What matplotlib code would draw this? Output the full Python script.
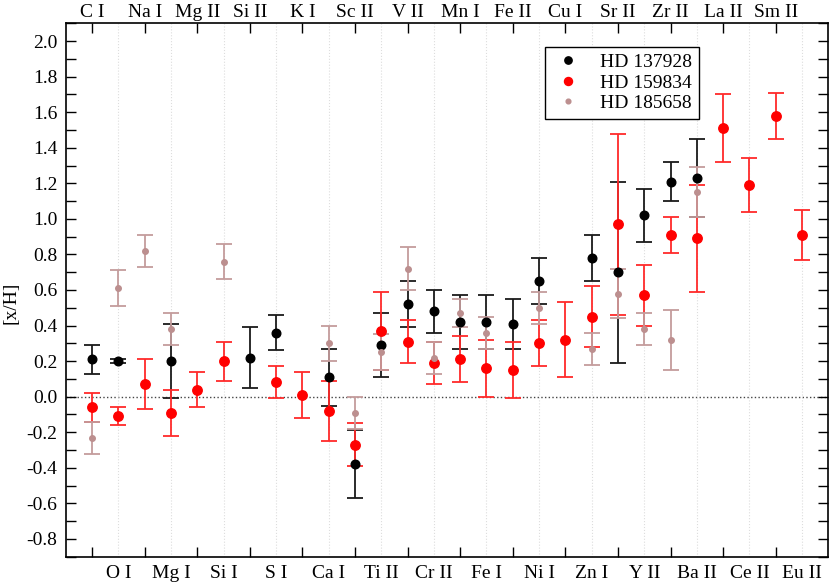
import numpy as np
import matplotlib
matplotlib.use('Agg')
import matplotlib.pyplot as plt
from matplotlib.lines import Line2D

plt.rcParams['font.family'] = ['Liberation Serif', 'DejaVu Serif']
plt.rcParams['axes.unicode_minus'] = False
plt.rcParams['font.size'] = 14

nan = np.nan

elements = ['C I', 'O I', 'Na I', 'Mg I', 'Mg II', 'Si I', 'Si II', 'S I',
            'K I', 'Ca I', 'Sc II', 'Ti II', 'V II', 'Cr II', 'Mn I', 'Fe I',
            'Fe II', 'Ni I', 'Cu I', 'Zn I', 'Sr II', 'Y II', 'Zr II', 'Ba II',
            'La II', 'Ce II', 'Sm II', 'Eu II']

# HD 137928
hd137928 = [0.21, 0.20, nan, 0.20, nan, nan, 0.22, 0.36,
            nan, 0.11, -0.38, 0.29, 0.52, 0.48, 0.42, 0.42,
            0.41, 0.65, nan, 0.78, 0.70, 1.02, 1.21, 1.23,
            nan, nan, nan, nan]
hd137928_err = [0.08, 0.01, nan, 0.21, nan, nan, 0.17, 0.10,
                nan, 0.16, 0.19, 0.18, 0.13, 0.12, 0.15, 0.15,
                0.14, 0.13, nan, 0.13, 0.51, 0.15, 0.11, 0.22,
                nan, nan, nan, nan]

# HD 159834
hd159834 = [-0.06, -0.11, 0.07, -0.09, 0.04, 0.20, nan, 0.08,
            0.01, -0.08, -0.27, 0.37, 0.31, 0.19, 0.21, 0.16,
            0.15, 0.30, 0.32, 0.45, 0.97, 0.57, 0.91, 0.89,
            1.51, 1.19, 1.58, 0.91]
hd159834_err = [0.08, 0.05, 0.14, 0.13, 0.10, 0.11, nan, 0.09,
                0.13, 0.17, 0.12, 0.22, 0.12, 0.12, 0.13, 0.16,
                0.16, 0.13, 0.21, 0.17, 0.51, 0.17, 0.10, 0.30,
                0.19, 0.15, 0.13, 0.14]

# HD 185658
hd185658 = [-0.23, 0.61, 0.82, 0.38, nan, 0.76, nan, nan,
            nan, 0.30, -0.09, 0.25, 0.72, 0.22, 0.47, 0.36,
            nan, 0.50, nan, 0.27, 0.58, 0.38, 0.32, 1.15,
            nan, nan, nan, nan]
hd185658_err = [0.09, 0.10, 0.09, 0.09, nan, 0.10, nan, nan,
                nan, 0.10, 0.09, 0.10, 0.12, 0.09, 0.08, 0.09,
                nan, 0.09, nan, 0.09, 0.14, 0.09, 0.17, 0.14,
                nan, nan, nan, nan]

yticks = [-0.8, -0.6, -0.4, -0.2, 0.0, 0.2, 0.4, 0.6, 0.8, 1.0,
          1.2, 1.4, 1.6, 1.8, 2.0]

x = np.arange(len(elements))

fig = plt.figure(figsize=(8.3, 5.84), dpi=100)
ax = fig.add_axes([0.0792, 0.0468, 0.9188, 0.9133])

ax.axhline(0, color='#444444', ls=':', lw=1.0, zorder=1)

series = [
    (hd137928, hd137928_err, 'black', '#1a1a1a', 6.2, 'HD 137928'),
    (hd159834, hd159834_err, 'red', '#ff2a2a', 6.8, 'HD 159834'),
    (hd185658, hd185658_err, '#bc8f8f', '#c49c9c', 4.0, 'HD 185658'),
]
handles = []
for vals, errs, col, ecol, ms, lab in series:
    ax.errorbar(x, vals, yerr=errs, fmt='o', color=col, ecolor=ecol,
                ms=ms, markeredgecolor=col, elinewidth=1.3, capsize=5.5,
                capthick=1.3, zorder=3)
    handles.append(Line2D([], [], ls='none', marker='o', color=col,
                          markeredgecolor=col, ms=ms * 0.85, label=lab))

ax.set_xlim(-1, 28)
ax.set_ylim(-0.9, 2.1)

# top labels on even positions, bottom labels on odd positions
ax.set_xticks(x[::2])
ax.set_xticklabels(elements[::2])
ax.set_xticks(x[1::2], minor=True)
ax.set_xticklabels(elements[1::2], minor=True)
ax.tick_params(axis='x', which='major', direction='in', length=7.5, width=1,
               top=True, bottom=True, labeltop=True, labelbottom=False, pad=1.5)
ax.tick_params(axis='x', which='minor', length=0, top=False, bottom=True,
               labelbottom=True, labeltop=False, pad=6)
ax.grid(axis='x', which='minor', color='#dddddd', ls=':', lw=0.8)

ax.set_yticks(yticks)
ax.set_yticklabels(['%.1f' % v for v in yticks])
ax.set_yticks(np.arange(-9, 22) / 10.0, minor=True)
ax.tick_params(axis='y', which='both', direction='in', length=7.5, width=1,
               left=True, right=True, pad=6)

for sp in ax.spines.values():
    sp.set_linewidth(1.2)

ax.set_ylabel('[x/H]')
ax.yaxis.set_label_coords(-0.060, 0.476)

leg = ax.legend(handles=handles, loc='upper left', bbox_to_anchor=(0.6285, 0.956),
                borderaxespad=0, frameon=True, fancybox=False, framealpha=1,
                edgecolor='black', labelspacing=0.15, handlelength=1.7,
                handletextpad=0.8, borderpad=0.35, fontsize=14)
leg.get_frame().set_linewidth(1.0)

fig.savefig('out.png', dpi=100)
